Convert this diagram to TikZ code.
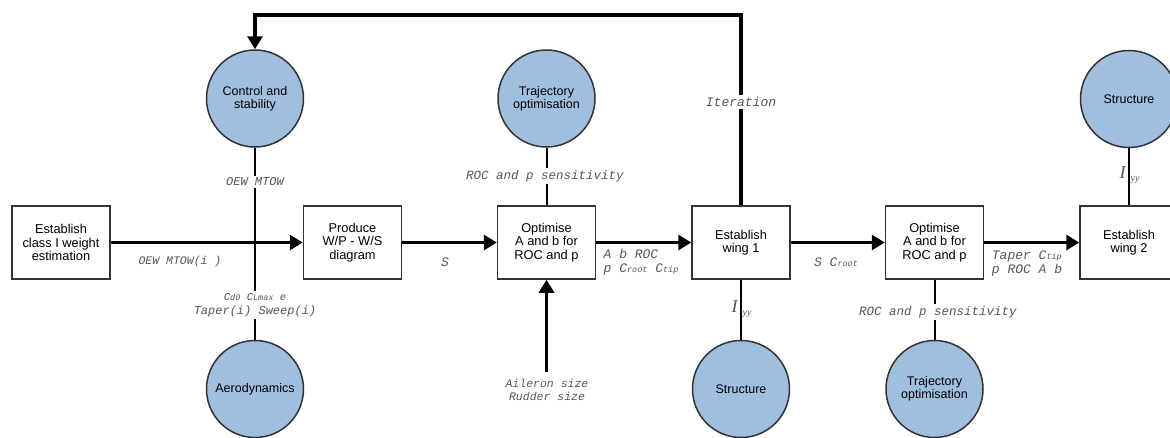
\documentclass[tikz,border=0pt]{standalone}
\usepackage{fontspec}
\setmainfont{Liberation Sans}
\setmonofont{Liberation Mono}
\newfontfamily\serifface{Liberation Serif}
\usetikzlibrary{arrows.meta}
\definecolor{discfill}{HTML}{A0BFDF}
\definecolor{edgegray}{HTML}{333333}
\definecolor{labelgray}{HTML}{555555}
\tikzset{
  stepbox/.style={draw=edgegray, line width=1.5pt, fill=white, minimum width=98pt,
    minimum height=73pt, align=center, font=\fontsize{12.8}{13.5}\selectfont, inner sep=2pt},
  disc/.style={circle, draw=edgegray, line width=1.5pt, fill=discfill, minimum size=97pt,
    align=center, font=\fontsize{12.5}{13}\selectfont, inner sep=0pt},
  flow/.style={line width=3.2pt, -{Triangle[length=13pt,width=15pt]}},
  link/.style={line width=2pt},
  lbl/.style={fill=white, text=labelgray, font=\fontsize{13}{14}\ttfamily\itshape,
    inner sep=2pt, align=center},
  lblfree/.style={text=labelgray, font=\fontsize{13}{14}\ttfamily\itshape,
    inner sep=1pt, align=center},
  ilbl/.style={text=labelgray, inner sep=1pt},
}
\newcommand{\smallsub}[2]{#1{\fontsize{8.5}{9}\selectfont #2}}
% moment of inertia symbol, split so that the connector runs between I and yy
\newcommand{\inertia}{{\serifface\itshape\fontsize{18}{18}\selectfont I}\kern5pt\raisebox{-2.5pt}{\serifface\itshape\fontsize{10}{10}\selectfont yy}}
\begin{document}
\begin{tikzpicture}[x=1pt, y=-1pt]
  \useasboundingbox (0,0) rectangle (1170,437);
  \begin{scope}
  \clip (0,0) rectangle (1170,437);

  % process boxes along the main flow
  \node[stepbox] (est)  at (61,242.5)   {Establish\\class I weight\\estimation};
  \node[stepbox] (wpws) at (352.5,242.5) {Produce\\W/P - W/S\\diagram};
  \node[stepbox] (opt1) at (546.5,242.5) {Optimise\\A and b for\\ROC and p};
  \node[stepbox] (wing1) at (741,242.5)  {Establish\\wing 1};
  \node[stepbox] (opt2) at (934.5,242.5) {Optimise\\A and b for\\ROC and p};
  \node[stepbox] (wing2) at (1129,242.5) {Establish\\wing 2};

  % discipline discs
  \node[disc] (ctrl)  at (255,98.5)  {Control and\\stability};
  \node[disc] (aero)  at (255,389)   {Aerodynamics};
  \node[disc] (traj1) at (546.5,98.5) {Trajectory\\optimisation};
  \node[disc] (str1)  at (741,389)   {Structure};
  \node[disc] (traj2) at (934.5,389) {Trajectory\\optimisation};
  \node[disc] (str2)  at (1129,99)   {Structure};

  % free end of the control-surface input and corners of the iteration loop
  \coordinate (ctrlin) at (546.5,372);
  \coordinate (loopA) at (741,15);
  \coordinate (loopB) at (255,15);

  % coupling lines between discs and boxes
  \draw[link] (ctrl.south) -- (aero.north);
  \draw[link] (traj1.south) -- (opt1.north);
  \draw[link] (wing1.south) -- (str1.north);
  \draw[link] (opt2.south) -- (traj2.north);
  \draw[link] (str2.south) -- (wing2.north);

  % main flow arrows
  \draw[flow] (est.east) -- (wpws.west);
  \draw[flow] (wpws.east) -- (opt1.west);
  \draw[flow] (opt1.east) -- (wing1.west);
  \draw[flow] (wing1.east) -- (opt2.west);
  \draw[flow] (opt2.east) -- (wing2.west);
  \draw[flow] (ctrlin) -- (opt1.south);
  \draw[flow] (wing1.north) -- (loopA) -- (loopB) -- (ctrl.north);

  % labels on the coupling lines
  \node[lbl, font=\fontsize{12}{13}\ttfamily\itshape] (l1) at (255,182) {OEW MTOW};
  \node[lbl, font=\fontsize{12}{13.5}\ttfamily\itshape] (l2) at (255,305)
    {{\fontsize{10.5}{11}\selectfont \smallsub{C}{d0} \smallsub{C}{Lmax} e}\\Taper(i) Sweep(i)};
  \node[lbl, font=\fontsize{12.5}{13}\ttfamily\itshape] (l3) at (545,176) {ROC and p sensitivity};
  \node[lbl] (l4) at (741,102) {Iteration};
  \node[ilbl] (l5) at (741.5,309) {\inertia};
  \node[lbl, font=\fontsize{12.5}{13}\ttfamily\itshape] (l6) at (938,312) {ROC and p sensitivity};
  \node[ilbl] (l7) at (1129.5,175) {\inertia};

  % labels beside the flow arrows
  \node[lblfree, font=\fontsize{11.5}{13}\ttfamily\itshape] (f1) at (180,262) {OEW MTOW(i )};
  \node[lblfree] (f2) at (445,262) {S};
  \node[lblfree, align=left] (f3) at (641,262) {A b ROC\\p \smallsub{C}{root} \smallsub{C}{tip}};
  \node[lblfree] (f4) at (836,262) {S \smallsub{C}{root}};
  \node[lblfree, align=left] (f5) at (1027,263) {Taper \smallsub{C}{tip}\\p ROC A b};
  \node[lblfree, font=\fontsize{11.5}{13}\ttfamily\itshape] (f6) at (547,390) {Aileron size\\Rudder size};
  \end{scope}
\end{tikzpicture}
\end{document}
